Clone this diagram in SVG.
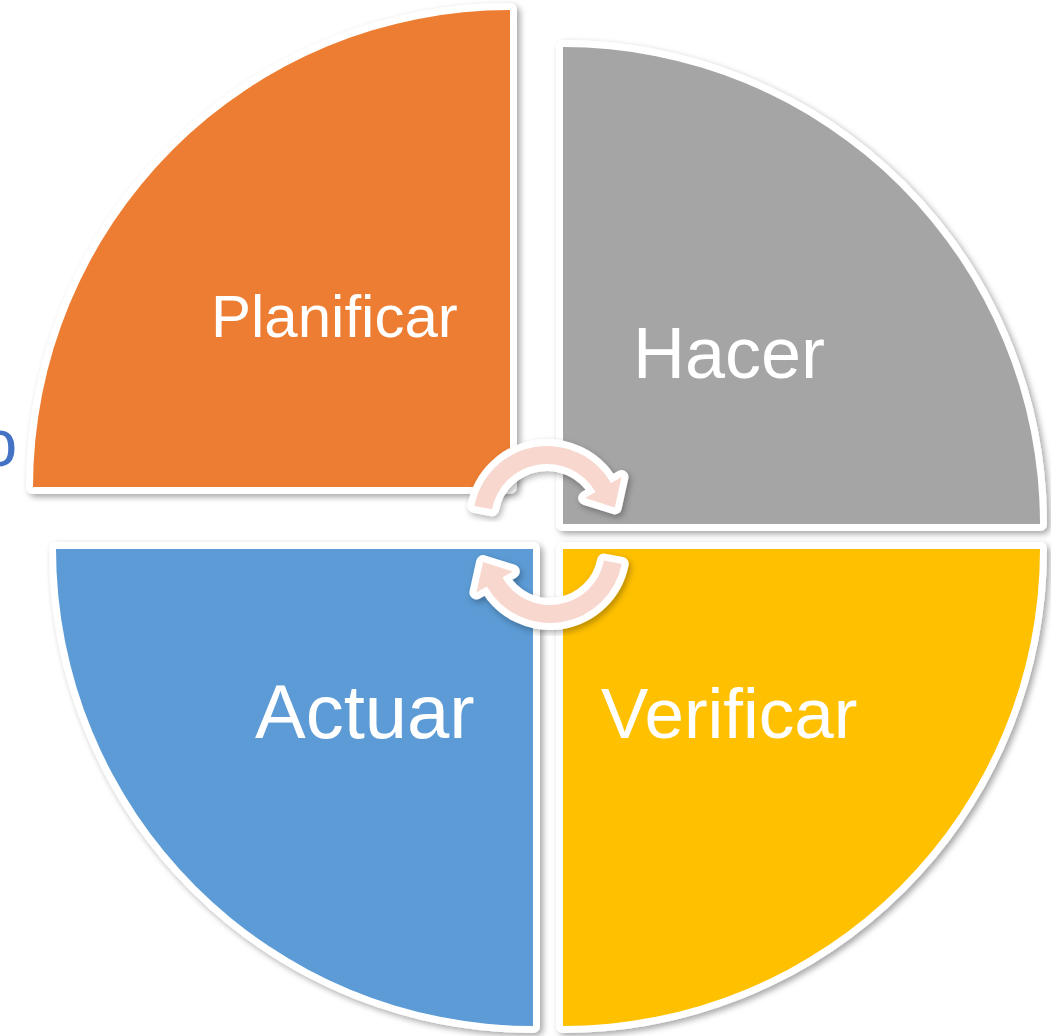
<svg xmlns="http://www.w3.org/2000/svg" width="1051" height="1036" viewBox="0 0 1051 1036">
  <defs>
    <filter id="shadow" x="-10%" y="-10%" width="120%" height="120%">
      <feDropShadow dx="3" dy="3" stdDeviation="3" flood-color="#000" flood-opacity="0.35"/>
    </filter>
    <filter id="ashadow" x="-20%" y="-20%" width="140%" height="140%">
      <feDropShadow dx="2" dy="3" stdDeviation="3" flood-color="#000" flood-opacity="0.3"/>
    </filter>
  </defs>
  <style>
    .q { stroke: #ffffff; stroke-width: 14; stroke-linejoin: round; paint-order: stroke fill; filter: url(#shadow); }
    .lbl { font-family: "Liberation Sans", Arial, sans-serif; fill: #ffffff; }
    .arrow { fill: #F8D8CE; stroke: #ffffff; stroke-width: 14; stroke-linejoin: round; paint-order: stroke fill; filter: url(#ashadow); }
  </style>
  <rect width="1051" height="1036" fill="#ffffff"/>
  <text x="-20" y="466" font-family="Liberation Sans, Arial, sans-serif" font-size="67" fill="#4472C4">o</text>

  <g id="planificar">
    <path class="q" fill="#ED7D31" d="M 510 487 L 33 487 A 477 477 0 0 1 510 10 Z"/>
    <text class="lbl" x="211" y="337" font-size="60">Planificar</text>
  </g>
  <g id="hacer">
    <path class="q" fill="#A5A5A5" d="M 563 524 L 563 47 A 477 477 0 0 1 1040 524 Z"/>
    <text class="lbl" x="633" y="378" font-size="72">Hacer</text>
  </g>
  <g id="verificar">
    <path class="q" fill="#FFC000" d="M 563 549 L 1040 549 A 477 477 0 0 1 563 1026 Z"/>
    <text class="lbl" x="601" y="738" font-size="71">Verificar</text>
  </g>
  <g id="actuar">
    <path class="q" fill="#5B9BD5" d="M 533 549 L 533 1026 A 477 477 0 0 1 56 549 Z"/>
    <text class="lbl" x="255" y="738" font-size="76">Actuar</text>
  </g>

  <g id="connectors">
    <path class="arrow" d="M 474.4 505.9 A 74 74 0 0 1 611.1 483 L 621.5 477 L 614.8 507.4 L 585.1 498 L 595.5 492 A 56 56 0 0 0 492 509.3 Z"/>
    <path class="arrow" d="M 621.7 563.9 A 73 73 0 0 1 486.8 586.5 L 476.4 592.5 L 483.1 562.1 L 512.8 571.5 L 502.4 577.5 A 55 55 0 0 0 604 560.5 Z"/>
  </g>
</svg>
